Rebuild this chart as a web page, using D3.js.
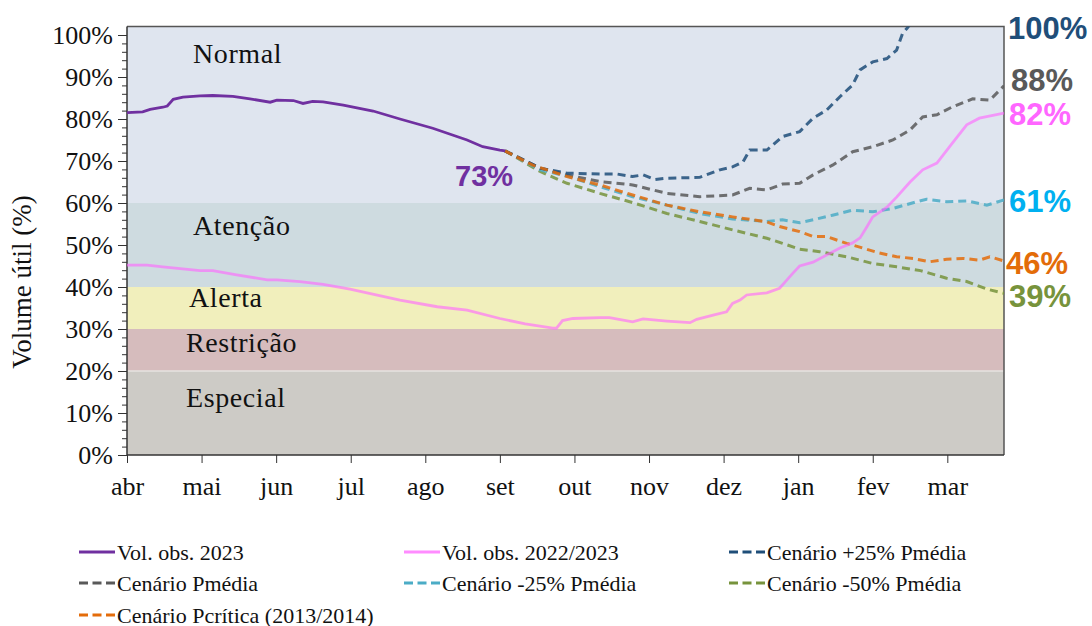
<!DOCTYPE html>
<html><head>
<meta charset="utf-8">
<script src="https://d3js.org/d3.v7.min.js"></script>
<style>
  body { margin: 0; background: #fff; }
  svg text { font-family: "Liberation Serif", serif; }
  .endlab { font-family: "Liberation Sans", Arial, sans-serif; font-weight: bold; }
</style>
</head>
<body>
<svg id="chart" width="1092" height="626"></svg>
<script>

// month tick labels (axis in months from 1 April)
let months = ["abr","mai","jun","jul","ago","set","out","nov","dez","jan","fev","mar"];

// operating bands: [from %, to %, name]
let bands = [
  [60, 102, "Normal"],
  [40, 60, "Atenção"],
  [30, 40, "Alerta"],
  [20, 30, "Restrição"],
  [0, 20, "Especial"]
];

// observed series, [month, volume %]
let obs2023 = [[0,81.5],[0.21,81.7],[0.31,82.3],[0.48,82.8],[0.54,83.1],[0.62,84.7],[0.75,85.2],[0.98,85.5],
  [1.15,85.6],[1.42,85.4],[1.65,84.8],[1.92,84.0],[2.01,84.5],[2.23,84.4],[2.36,83.7],[2.49,84.2],[2.63,84.1],
  [2.90,83.3],[3.30,81.9],[3.66,80.0],[4.10,77.8],[4.56,75.0],[4.77,73.4],[5.0,72.6],[5.07,72.4]];

let obs2223 = [[0,45.2],[0.27,45.2],[0.48,44.8],[0.98,43.9],[1.15,43.9],[1.47,42.9],[1.88,41.7],[2.01,41.7],
  [2.32,41.3],[2.63,40.6],[2.99,39.5],[3.66,36.9],[4.16,35.3],[4.56,34.5],[5.0,32.5],[5.34,31.2],[5.71,30.2],
  [5.76,30.2],[5.84,32.0],[5.98,32.5],[6.34,32.7],[6.47,32.7],[6.78,31.7],[6.92,32.4],[7.24,31.9],[7.55,31.5],
  [7.64,32.3],[7.86,33.3],[8.04,34.1],[8.12,36.1],[8.22,36.9],[8.31,38.1],[8.58,38.6],[8.75,39.7],[8.85,41.7],
  [8.93,43.3],[9.02,45.0],[9.20,45.9],[9.56,49.3],[9.73,50.5],[9.83,51.7],[9.92,54.3],[10.0,56.7],[10.19,59.0],
  [10.32,61.4],[10.50,65.0],[10.67,67.9],[10.86,69.5],[11.07,74.3],[11.26,78.6],[11.43,80.2],[11.76,81.4]];

// scenarios, starting from the last observation
let cenPlus25 = [[5.07,72.4],[5.54,68.3],[5.90,67.1],[6.34,66.9],[6.57,66.9],[6.78,66.3],[6.92,66.7],[7.08,65.6],
  [7.24,65.9],[7.68,66.1],[7.95,67.9],[8.12,68.6],[8.26,69.8],[8.35,72.6],[8.58,72.6],[8.79,75.8],[9.02,77.0],
  [9.20,80.2],[9.38,82.1],[9.56,85.3],[9.73,88.1],[9.83,91.7],[10.0,93.6],[10.19,94.4],[10.32,96.4],[10.40,100.4],
  [10.46,101.6],[10.54,103.5]];

let cenMedia = [[5.07,72.4],[5.54,68.3],[5.90,66.7],[6.34,65.1],[6.78,64.3],[7.24,62.3],[7.68,61.5],[8.12,61.9],
  [8.35,63.5],[8.58,63.1],[8.79,64.5],[9.02,64.7],[9.20,66.7],[9.46,69.0],[9.73,72.2],[10.0,73.4],[10.27,75.0],
  [10.50,77.4],[10.67,80.5],[10.86,81.0],[11.07,82.9],[11.34,84.8],[11.57,84.5],[11.76,87.9]];

let cenMinus25 = [[5.07,72.4],[5.54,67.9],[5.90,66.4],[6.34,63.9],[6.78,61.5],[7.24,59.5],[7.68,57.5],[8.12,56.2],
  [8.58,55.6],[8.79,56.0],[9.02,55.3],[9.20,56.0],[9.46,57.1],[9.73,58.3],[10.0,57.9],[10.27,58.7],[10.59,60.3],
  [10.72,60.9],[10.99,60.3],[11.26,60.5],[11.53,59.5],[11.76,60.7]];

let cenMinus50 = [[5.07,72.4],[5.54,67.5],[5.90,64.7],[6.34,62.3],[6.78,60.1],[7.24,57.5],[7.68,55.6],[8.12,53.6],
  [8.58,51.6],[8.79,50.4],[9.02,49.0],[9.29,48.4],[9.65,47.2],[10.0,45.6],[10.32,44.8],[10.64,43.9],[10.99,42.1],
  [11.26,41.3],[11.53,39.5],[11.76,38.5]];

let cenCritica = [[5.07,72.4],[5.44,69.0],[5.90,66.3],[6.34,64.3],[6.78,61.9],[7.24,59.5],[7.68,57.9],[8.12,56.7],
  [8.58,55.5],[8.75,54.4],[9.02,53.2],[9.20,52.0],[9.38,52.0],[9.65,50.4],[10.09,48.1],[10.32,47.2],[10.54,46.8],
  [10.76,46.0],[10.99,46.6],[11.21,46.8],[11.43,46.4],[11.57,47.2],[11.76,46.2]];

// end-of-period labels
let endValues = [100, 88, 82, 61, 46, 39];

let svg = d3.select("#chart");

// scales (x in months since 1 April)
let x = d3.scaleLinear().domain([0, 11.76]).range([127, 1004]);
let y = d3.scaleLinear().domain([0, 102]).range([455, 26.6]);

// 1. background bands
let bandColors = ["#dfe5ef", "#cedbe0", "#f1efbc", "#d6bcbd", "#cdcbc6"];
let bandLabelX = [193, 193, 189, 186, 186];
let bandLabelAt = [95.7, 54.7, 37.4, 26.9, 13.8];   // where the label sits, in % units
bands.forEach(function(b, i) {
  svg.append("rect")
    .attr("x", x(0)).attr("width", x(11.76) - x(0))
    .attr("y", y(b[1])).attr("height", y(b[0]) - y(b[1]))
    .style("fill", bandColors[i]);
});
bands.forEach(function(b, i) {
  svg.append("text")
    .attr("x", bandLabelX[i])
    .attr("y", y(bandLabelAt[i]))
    .attr("dominant-baseline", "central")
    .style("font-size", "28px").style("letter-spacing", "0.6px").style("fill", "#111")
    .text(b[2]);
});
// faint line at the 20% boundary
svg.append("line").attr("x1", x(0)).attr("x2", x(11.76)).attr("y1", y(20)).attr("y2", y(20))
  .style("stroke", "#e6e3e0").style("stroke-width", 1.5);

// 2. plot border (top and right)
svg.append("path")
  .attr("d", "M" + x(0) + "," + y(102) + "H" + x(11.76) + "V" + y(0))
  .style("fill", "none").style("stroke", "#555").style("stroke-width", 1.5);

// 3. axes
let yMinor = d3.axisLeft(y).tickValues(d3.range(0, 101, 2)).tickSize(5).tickFormat("");
svg.append("g").attr("transform", "translate(" + x(0) + ",0)").call(yMinor)
  .call(g => g.select(".domain").remove())
  .selectAll("line").style("stroke", "#333");

let yAxis = d3.axisLeft(y).tickValues(d3.range(0, 101, 10)).tickSize(9).tickPadding(5)
  .tickFormat(d => d + "%");
let gy = svg.append("g").attr("transform", "translate(" + x(0) + ",0)").call(yAxis);
gy.select(".domain").attr("d", "M0," + y(0) + "V" + y(102)).style("stroke", "#333").style("stroke-width", 1.5);
gy.selectAll("line").style("stroke", "#333");
gy.selectAll("text").style("font-size", "26px").style("font-family", "Liberation Serif").style("fill", "#111");

let xAxis = d3.axisBottom(x).tickValues(d3.range(12)).tickSize(8).tickPadding(14)
  .tickFormat(i => months[i]);
let gx = svg.append("g").attr("transform", "translate(0," + y(0) + ")").call(xAxis);
gx.select(".domain").attr("d", "M" + x(0) + ",0H" + x(11.76)).style("stroke", "#333").style("stroke-width", 1.5);
gx.selectAll("line").style("stroke", "#333");
gx.selectAll("text").style("font-size", "26px").style("font-family", "Liberation Serif").style("fill", "#111");

svg.append("text")
  .attr("transform", "translate(31,282) rotate(-90)")
  .attr("text-anchor", "middle")
  .style("font-size", "27px").style("fill", "#111")
  .text("Volume útil (%)");

// 4. lines
svg.append("clipPath").attr("id", "plotclip")
  .append("rect").attr("x", x(0)).attr("y", y(102)).attr("width", x(11.76) - x(0)).attr("height", y(0) - y(102));

let line = d3.line().x(d => x(d[0])).y(d => y(d[1]));
let layer = svg.append("g").attr("clip-path", "url(#plotclip)");

let series = [
  { data: cenMinus50, color: "#77933c", dash: true, name: "Cenário -50% Pmédia" },
  { data: cenMinus25, color: "#4bacc6", dash: true, name: "Cenário -25% Pmédia" },
  { data: cenMedia, color: "#595959", dash: true, name: "Cenário Pmédia" },
  { data: cenPlus25, color: "#1f4e79", dash: true, name: "Cenário +25% Pmédia" },
  { data: cenCritica, color: "#e46c0a", dash: true, name: "Cenário Pcrítica (2013/2014)" },
  { data: obs2223, color: "#ff66ff", dash: false, name: "Vol. obs. 2022/2023", opacity: 0.62 },
  { data: obs2023, color: "#7030a0", dash: false, name: "Vol. obs. 2023" }
];
series.forEach(function(s) {
  layer.append("path")
    .attr("d", line(s.data))
    .style("fill", "none")
    .style("stroke", s.color)
    .style("stroke-width", s.dash ? 3 : 2.8)
    .style("stroke-dasharray", s.dash ? "8,5" : null)
    .style("opacity", s.dash ? 0.85 : (s.opacity || 1));
});

// 5. value labels
svg.append("text").attr("class", "endlab")
  .attr("x", 455).attr("y", 176).attr("dominant-baseline", "central")
  .style("font-size", "29px").style("fill", "#7030a0").text("73%");

let endColors = ["#1f4e79", "#595959", "#ff66ff", "#00b0f0", "#e36c09", "#77933c"];
let endDy = [-7, -5, 4, 3, 2, 5];
let endDx = [1008, 1011, 1009, 1009, 1006, 1009];
endValues.forEach(function(v, i) {
  svg.append("text").attr("class", "endlab")
    .attr("x", endDx[i]).attr("y", y(v) + endDy[i])
    .attr("dominant-baseline", "central")
    .style("font-size", "31px").style("fill", endColors[i])
    .text(v + "%");
});

// 6. legend
let legendOrder = [6, 5, 3, 2, 1, 0, 4];
let colX = [79, 404, 729];
let rowY = [552, 583, 615];
legendOrder.forEach(function(si, k) {
  let s = series[si];
  let lx = colX[k % 3], ly = rowY[Math.floor(k / 3)];
  let g = svg.append("g").attr("transform", "translate(" + lx + "," + ly + ")");
  g.append("line").attr("x1", 0).attr("x2", 36).attr("y1", 0).attr("y2", 0)
    .style("stroke", s.color).style("stroke-width", 3)
    .style("stroke-dasharray", s.dash ? "9,4.5" : null)
    .style("opacity", s.opacity ? 0.75 : 1);
  g.append("text").attr("x", 38).attr("y", 0).attr("dominant-baseline", "central")
    .style("font-size", "22px").style("fill", "#111").text(s.name);
});

</script>
</body>
</html>
